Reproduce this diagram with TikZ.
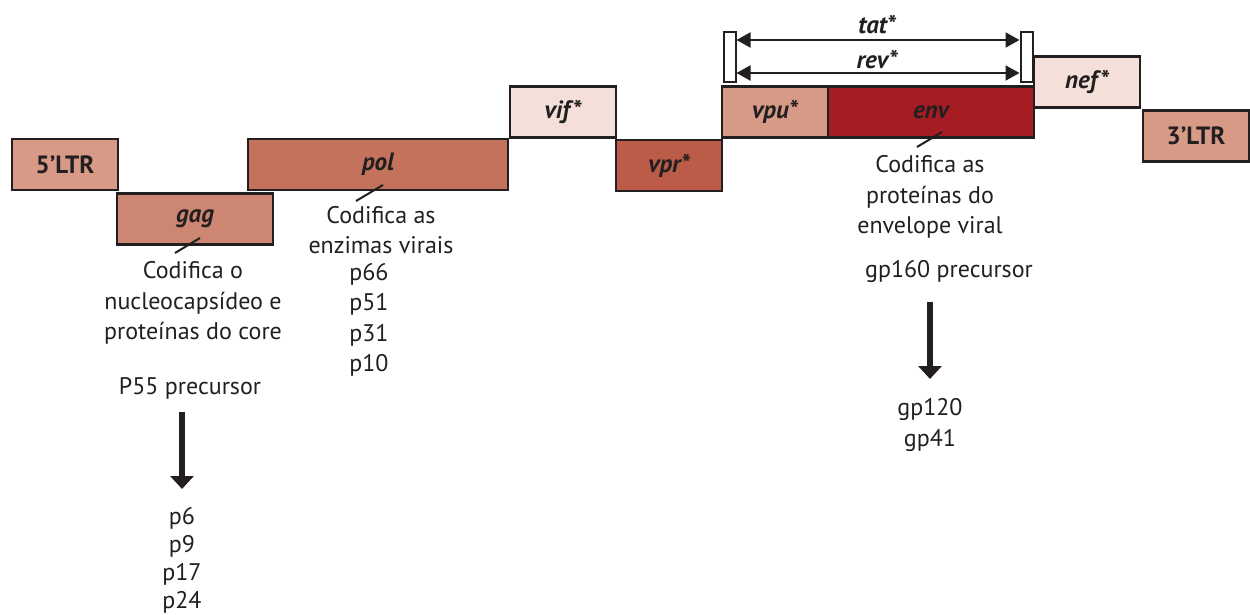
\documentclass[tikz,border=0pt]{standalone}
\usepackage{fontspec}
\setmainfont{PT Sans}
\usetikzlibrary{arrows.meta}
\definecolor{ltrc}{HTML}{D69A87}
\definecolor{gagc}{HTML}{CD8672}
\definecolor{polc}{HTML}{C3735C}
\definecolor{palec}{HTML}{F4E0D8}
\definecolor{vprc}{HTML}{BA5C48}
\definecolor{envc}{HTML}{A51C22}
\definecolor{inkc}{HTML}{231F20}
\begin{document}
\begin{tikzpicture}[x=1pt,y=-1pt,
  gene/.style={draw=inkc, line width=2.5pt, inner sep=0pt, minimum height=51pt,
    font=\fontsize{25}{27}\selectfont\bfseries\itshape, text=inkc},
  ltrbox/.style={gene, font=\fontsize{25}{27}\selectfont\bfseries},
  wbox/.style={draw=inkc, fill=white, line width=2pt, inner sep=0pt, minimum width=12pt, minimum height=50pt},
  info/.style={align=center, font=\fontsize{24}{30.5}\selectfont, text=inkc, inner sep=0pt},
  lbl/.style={font=\fontsize{25}{27}\selectfont\bfseries\itshape, text=inkc, inner sep=0pt},
  dbl/.style={inkc, line width=2pt, {Triangle[length=14pt,width=15pt]}-{Triangle[length=14pt,width=15pt]}},
  big/.style={inkc, line width=6.5pt, -{Triangle[length=13pt,width=23pt]}},
  tick/.style={inkc, line width=2pt}
]
\useasboundingbox (0,0) rectangle (1250,615);
% gene boxes
\node[ltrbox, fill=ltrc, minimum width=106pt] (ltr5) at (65,164.5) {5’LTR};
\node[gene, fill=gagc, minimum width=156pt] (gag) at (195,219) {gag};
\node[gene, fill=polc, minimum width=260pt] (pol) at (378,164.5) {pol};
\node[gene, fill=palec, minimum width=106pt] (vif) at (563,112) {vif*};
\node[gene, fill=vprc, minimum width=106pt] (vpr) at (669,165.5) {vpr*};
\node[gene, fill=ltrc, minimum width=106pt] (vpu) at (775,112) {vpu*};
\node[gene, fill=envc, minimum width=206pt] (env) at (931,112) {env};
\node[gene, fill=palec, minimum width=106pt] (nef) at (1087,82) {nef*};
\node[ltrbox, fill=ltrc, minimum width=106pt] (ltr3) at (1196,136) {3’LTR};
% tat / rev
\node[wbox] (wl) at (729.5,57.5) {};
\node[wbox] (wr) at (1026.5,57.5) {};
\draw[dbl] ([yshift=17.5pt]wl.east) -- ([yshift=17.5pt]wr.west);
\draw[dbl] ([yshift=-15.5pt]wl.east) -- ([yshift=-15.5pt]wr.west);
\node[lbl] (tat) at (877,25) {tat*};
\node[lbl] (rev) at (877,60) {rev*};
% gag info
\coordinate (gt1) at (175,253);
\coordinate (gt2) at (200,238);
\draw[tick] (gt1) -- (gt2);
\node[info] (gaginfo) at (193,303) {Codifica o\\nucleocapsídeo e\\proteínas do core};
\node[info] (p55) at (190,388) {P55 precursor};
\coordinate (ga1) at (182,412);
\coordinate (ga2) at (182,489);
\draw[big] (ga1) -- (ga2);
\node[info, font=\fontsize{24}{28}\selectfont] (gagp) at (182,560) {p6\\p9\\p17\\p24};
% pol info
\coordinate (pt1) at (356,201);
\coordinate (pt2) at (383,185);
\draw[tick] (pt1) -- (pt2);
\node[info] (polinfo) at (381,230) {Codifica as\\enzimas virais};
\node[info] (polp) at (369,320) {p66\\p51\\p31\\p10};
% env info
\coordinate (et1) at (917,147);
\coordinate (et2) at (942,132);
\draw[tick] (et1) -- (et2);
\node[info] (envinfo) at (930,197) {Codifica as\\proteínas do\\envelope viral};
\node[info] (gp160) at (949,271) {gp160 precursor};
\coordinate (ea1) at (930,302);
\coordinate (ea2) at (930,379);
\draw[big] (ea1) -- (ea2);
\node[info] (envp) at (930,425) {gp120\\gp41};
\end{tikzpicture}
\end{document}
